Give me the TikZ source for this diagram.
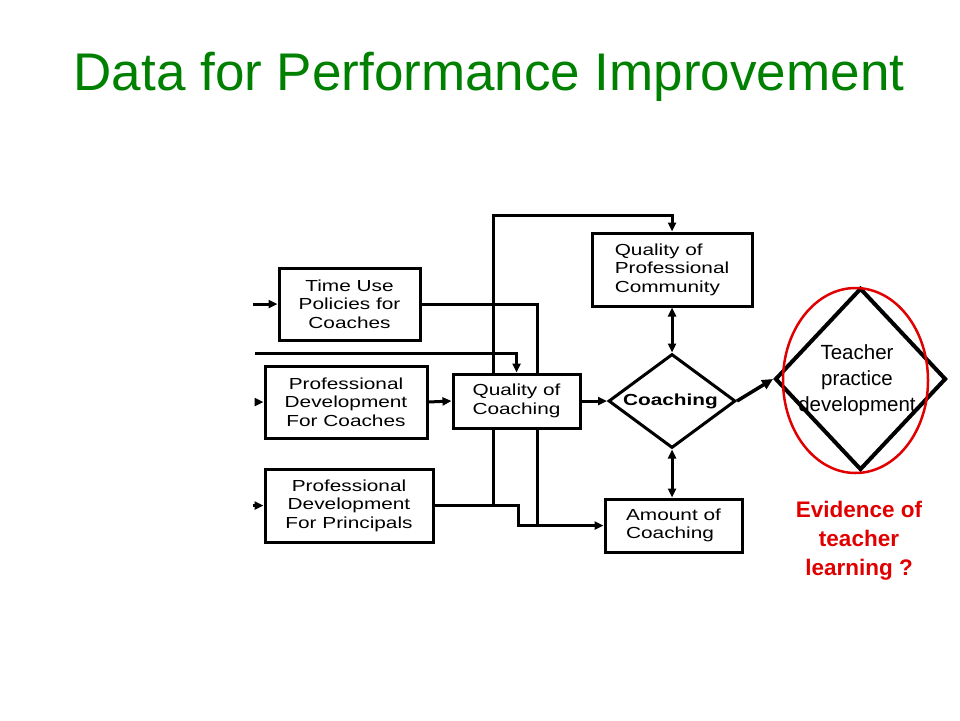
\documentclass[tikz,border=0pt]{standalone}
\usepackage{fontspec}
\setmainfont{Liberation Sans}
\newfontfamily\boxfont[FakeStretch=1.3]{Liberation Sans}
\usetikzlibrary{shapes.geometric,arrows.meta,backgrounds}
\definecolor{titlegreen}{RGB}{0,128,0}
\definecolor{evired}{RGB}{225,0,0}

\begin{document}
\begin{tikzpicture}[x=1pt,y=-1pt,
    box/.style={draw,line width=3pt,fill=white,inner sep=0pt,font=\boxfont\fontsize{16}{18.5}\selectfont,align=center},
    link/.style={line width=3pt},
    tip/.style={-{Triangle[length=9pt,width=8pt]}},
    twoway/.style={{Triangle[length=9pt,width=8pt]}-{Triangle[length=9pt,width=8pt]}}]
                \useasboundingbox (0,0) rectangle (960,720);

                \node[font=\fontsize{53}{60}\selectfont,text=titlegreen,anchor=base] (title) at (489,90) {Data for Performance Improvement};

                \node[box,minimum width=141,minimum height=72] (tuc) at (349.5,304) {Time Use\\Policies for\\Coaches};
                \node[box,minimum width=162,minimum height=72] (pdc) at (346,402) {Professional\\Development\\For Coaches};
                \node[box,minimum width=168,minimum height=73] (pdp) at (349,505.5) {Professional\\Development\\For Principals};
                \node[box,minimum width=127,minimum height=54] (qoc) at (516.5,401) {Quality of\\Coaching};
                \node[box,minimum width=160,minimum height=73,align=left] (qpc) at (672,269.5) {Quality of\\Professional\\Community};
                \node[box,minimum width=137,minimum height=53,align=left] (amt) at (673.5,525.5) {Amount of\\Coaching};
                \node[draw,diamond,line width=3pt,fill=white,minimum width=127,minimum height=94,inner sep=0pt] (coach) at (672,401) {};
                \node[font=\boxfont\bfseries\fontsize{16}{18}\selectfont] (coachtxt) at (670.5,401) {Coaching};

                \node[draw,diamond,line width=4pt,minimum width=171,minimum height=182,inner sep=0pt] (tpd) at (860.5,379) {};
                \node[draw=evired,ellipse,line width=2.5pt,minimum width=145,minimum height=185,inner sep=0pt] (ring) at (855.5,380.5) {};
                \node[font=\fontsize{20.5}{26}\selectfont,align=center] (tpdtxt) at (857,380) {Teacher\\practice\\development};
                \node[font=\bfseries\fontsize{22.5}{29}\selectfont,text=evired,align=center] (evid) at (859,541) {Evidence of\\teacher\\learning ?};

                \coordinate (intuc) at (253,304);
                \coordinate (intop) at (255,353);
                \coordinate (inpdc) at (255,402);
                \coordinate (inpdp) at (253,505.5);
                \coordinate (jp) at (493,505.5);
                \coordinate (tp) at (493,215);
                \coordinate (jq) at (537,525.5);

                \begin{scope}[on background layer]
                \draw[link,tip] (jp) -- (tp) -| (qpc.north);
                \draw[link] (tuc.east) -| (jq);
                \end{scope}

                \draw[link,tip] (intuc) -- (tuc.west);
                \draw[link,tip] (intop) -| (qoc.north);
                \draw[link,tip] (inpdc) -- (pdc.west);
                \draw[link,tip] (inpdp) -- (pdp.west);
                \draw[link,tip] (pdc.east) -- (qoc.west);
                \draw[link,tip] (pdp.east) -- ++(84,0) |- (amt.west);
                \draw[link,tip] (qoc.east) -- (coach.west);
                \draw[link,twoway] (qpc.south) -- (coach.north);
                \draw[link,twoway] (coach.south) -- (coach.south |- amt.north);
                \draw[line width=3.5pt,-{Triangle[length=11pt,width=10pt]}] (coach.east) -- (tpd.west);
            \end{tikzpicture}
\end{document}
